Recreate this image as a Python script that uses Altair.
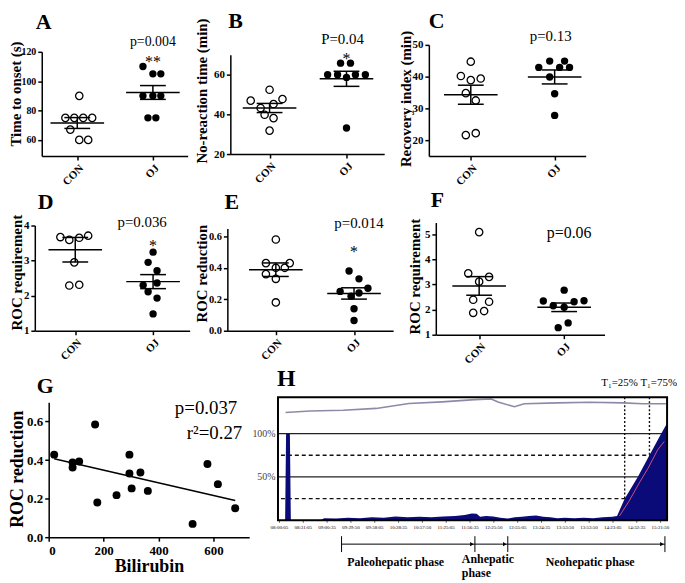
import altair as alt
import pandas as pd

FONT = "Liberation Serif"

# ---------------- data ----------------
# jitter values are horizontal spreads of the dot plot, in pixels
a_con = [90, 75, 75, 75, 75, 67, 60, 60]
a_con_jit = [2, -12, -3, 6, 15, -7, 2, 11]
a_oj = [110, 105, 105, 90, 90, 90, 75, 75]
a_oj_jit = [-10, 0, 8, -10, 0, 8, -5, 3]
a_mean = [71.5, 92.3]
a_sem = [3.7, 4.7]

b_con = [52.4, 46.9, 47.7, 43.2, 45.2, 39.8, 38.1, 31.8]
b_con_jit = [0, -19, 13, -9, 4, -5, 4, 0]
b_oj = [65.8, 65.8, 60, 60, 60, 60, 58.6, 33.1]
b_oj_jit = [-6, 4, -19, -9, 9, 19, 0, 0]
b_mean = [43.2, 57.9]
b_sem = [2.3, 3.8]

c_con = [44.7, 40.2, 38.9, 39.4, 34.8, 32.5, 21.6, 22.2]
c_con_jit = [0, -10, 0, 10, -5, 5, -5, 5]
c_oj = [44.9, 44.9, 42.9, 42.9, 42.9, 39.9, 34.6, 27.8]
c_oj_jit = [-5, 10, -16, 5, 15, -5, 0, 0]
c_mean = [34.3, 39.9]
c_sem = [3.0, 2.2]

d_con = [3.67, 3.59, 3.65, 3.71, 2.95, 2.29, 2.31]
d_con_jit = [-15, -6, 4, 13, -1, -6, 4]
d_oj = [3.24, 2.95, 2.71, 2.30, 2.36, 2.11, 1.93, 1.48]
d_oj_jit = [0, -5, 4, -10, 4, -5, 4, 0]
d_mean = [3.31, 2.40]
d_sem = [0.35, 0.20]

e_con = [0.58, 0.43, 0.43, 0.40, 0.40, 0.36, 0.33, 0.18]
e_con_jit = [0, -10, 14, 0, 9, -10, 0, 0]
e_oj = [0.38, 0.33, 0.25, 0.22, 0.24, 0.27, 0.14, 0.065]
e_oj_jit = [-5, 5, -14, -3, 5, 14, 0, 0]
e_mean = [0.388, 0.237]
e_sem = [0.043, 0.036]

f_con = [5.08, 3.44, 3.30, 3.11, 2.39, 2.31, 1.87, 1.94]
f_con_jit = [0, -11, 10, 0, -6, 10, -6, 5]
f_oj = [2.77, 2.34, 2.15, 2.09, 2.31, 2.35, 1.47, 1.28]
f_oj_jit = [0, -21, -11, 0, 10, 20, 4, -6]
f_mean = [2.94, 2.09]
f_sem = [0.37, 0.17]

g_bilirubin = [20, 169, 87, 87, 111, 177, 247, 294, 294, 302, 334, 361, 524, 578, 616, 679]
g_roc = [0.428, 0.584, 0.387, 0.361, 0.392, 0.18, 0.218, 0.428, 0.33, 0.253,
         0.335, 0.24, 0.069, 0.38, 0.275, 0.15]

h_times = ["08:00:05", "08:31:05", "09:00:35", "09:29:50", "09:58:05", "10:28:35",
           "10:57:50", "11:25:05", "11:56:35", "12:25:50", "12:55:05", "13:24:35",
           "13:53:50", "13:53:50", "14:23:05", "14:52:35", "15:21:50"]
# positions in units of time-label index
h_area_t = [0.26, 0.30, 0.46, 0.50, 1.75, 1.9, 2.4, 2.9, 3.4, 3.9, 4.4, 4.9, 5.4, 5.9,
            6.4, 6.9, 7.4, 7.8, 8.1, 8.3, 8.45, 8.7, 9.0, 9.3, 9.6, 9.9, 10.2, 10.5,
            10.8, 11.1, 11.4, 11.7, 12.0, 12.4, 12.8, 13.2, 13.6, 14.0, 14.2, 14.52,
            15.07, 15.56, 16.05, 16.3]
h_area_pct = [0, 100, 100, 0, 0, 2.5, 2, 3, 2.5, 3.5, 3, 4.5, 3.5, 4, 3.5, 4.5, 5, 6,
              8, 7.5, 4, 5, 4.5, 3, 2, 3.5, 4, 5, 5.5, 4, 3.5, 2.5, 3, 2.5, 3, 2.5, 3.5,
              4, 5, 25, 50, 75, 100, 112]
h_pink_t = [14.3, 14.7, 15.15, 15.5, 15.9, 16.18]
h_pink_pct = [5, 22, 44, 60, 81, 91]
h_gray_t = [0.28, 1.31, 2.70, 4.08, 5.46, 6.85, 8.23, 8.92, 9.20, 9.89, 10.3, 11.69,
            13.07, 14.45, 15.28, 16.25]
h_gray_pct = [124.3, 126.2, 126.9, 129.1, 134.7, 136.6, 139.2, 140, 136.6, 131, 134.4,
              135.5, 136.3, 135.5, 134.4, 134.4]
h_t1_marks = [14.52, 15.56]
h_solid_levels = [50, 100]
h_dashed_levels = [25, 75]
h_phase_bounds = [2.63, 8.23, 9.61, 16.21]
h_phase_names = ["Paleohepatic phase", "Anhepatic", "phase", "Neohepatic phase"]
h_phase_name_t = [4.9, 7.68, 7.68, 13.07]


def spacer(w, h):
    return alt.Chart(pd.DataFrame({"z": [0]})).mark_point(opacity=0, size=0).encode(
        x=alt.value(0), y=alt.value(0)).properties(width=w, height=h)


def cell(panel, w, s):
    return alt.vconcat(spacer(w, s), panel, spacing=0)


def letter_layer(letter, lx, ly, fs):
    one = pd.DataFrame({"k": [0]})
    return alt.Chart(one).mark_text(text=letter, font=FONT, fontSize=fs, fontWeight="bold",
                                    align="left", baseline="alphabetic", color="black").encode(
        x=alt.value(lx), y=alt.value(ly))


def dot_panel(letter, con, con_j, oj, oj_j, means, sems, xdom, w, h, ydom, yticks,
              ytitle, tx, ty, yfmt, ptext, pdx, pbase, stars, sy, lx, ly,
              pfs=15, ylab=11):
    ppu = w / (xdom[1] - xdom[0])
    pts = pd.DataFrame({"g": [0] * len(con) + [1] * len(oj),
                        "v": con + oj, "j": con_j + oj_j})
    xs = alt.Scale(domain=xdom, nice=False, zero=False)
    ys = alt.Scale(domain=ydom, nice=False, zero=False)
    xax = alt.Axis(values=[0, 1], labelExpr="datum.value < 0.5 ? 'CON' : 'OJ'",
                   labelAngle=-45, title=None, labelFontSize=11)
    yax = alt.Axis(values=yticks, format=yfmt, title=ytitle, titleX=tx, titleY=ty,
                   titleAngle=270, titleAlign="center", titleBaseline="middle",
                   labelFontSize=ylab)

    def X(f):
        return alt.X(f, type="quantitative", scale=xs, axis=xax)

    def Y(f):
        return alt.Y(f, type="quantitative", scale=ys, axis=yax)

    base = alt.Chart(pts).transform_calculate(xp=f"datum.g + datum.j / {ppu:.4f}")
    con_l = base.transform_filter("datum.g == 0").mark_point(
        shape="circle", color="black", strokeWidth=1.3, size=55, opacity=1
    ).encode(x=X("xp"), y=Y("v"))
    oj_l = base.transform_filter("datum.g == 1").mark_circle(
        color="black", size=55, opacity=1
    ).encode(x=X("xp"), y=Y("v"))

    st = pd.DataFrame({"g": [0, 1], "m": means, "s": sems})
    mh = 27 / ppu
    ch = 13 / ppu
    sb = alt.Chart(st).transform_calculate(
        lo="datum.m - datum.s", hi="datum.m + datum.s",
        a0=f"datum.g - {mh:.4f}", a1=f"datum.g + {mh:.4f}",
        c0=f"datum.g - {ch:.4f}", c1=f"datum.g + {ch:.4f}")
    rs = dict(color="black", strokeWidth=1.5)
    vert = sb.mark_rule(**rs).encode(x=X("g"), y=Y("lo"), y2="hi")
    meanl = sb.mark_rule(**rs).encode(x=X("a0"), x2="a1", y=Y("m"))
    caph = sb.mark_rule(**rs).encode(x=X("c0"), x2="c1", y=Y("hi"))
    capl = sb.mark_rule(**rs).encode(x=X("c0"), x2="c1", y=Y("lo"))

    one = pd.DataFrame({"g": [1]})
    pt = alt.Chart(one).mark_text(text=ptext, font=FONT, fontSize=pfs, align="center",
                                  baseline="alphabetic", dx=pdx, color="black").encode(
        x=X("g"), y=alt.value(pbase))
    layers = [vert, meanl, caph, capl, con_l, oj_l, pt, letter_layer(letter, lx, ly, 22)]
    if stars:
        layers.append(alt.Chart(one).mark_text(text=stars, font=FONT, fontSize=16,
                                               align="center", baseline="middle",
                                               color="black").encode(
            x=X("g"), y=alt.value(sy)))
    return alt.layer(*layers).properties(width=w, height=h)


A = dot_panel("A", a_con, a_con_jit, a_oj, a_oj_jit, a_mean, a_sem, [-0.47, 1.46], 147, 105,
              [49, 120], [60, 80, 100, 120], "Time to onset (s)", -26, 42, "d",
              "p=0.004", 0, -6, "**", 10, -6, -23, pfs=14, ylab=10)
B = dot_panel("B", b_con, b_con_jit, b_oj, b_oj_jit, b_mean, b_sem, [-0.51, 1.49], 155, 100,
              [20, 70], [20, 40, 60], "No-reaction time (min)", -29.5, 36, "d",
              "P=0.04", -4, -11, "*", 4, -2, -27)
C = dot_panel("C", c_con, c_con_jit, c_oj, c_oj_jit, c_mean, c_sem, [-0.5, 1.37], 158, 112,
              [15, 50], [20, 30, 40, 50], "Recovery index (min)", -23, 54, "d",
              "p=0.13", -4, -4, "", 0, 0, -17)
D = dot_panel("D", d_con, d_con_jit, d_oj, d_oj_jit, d_mean, d_sem, [-0.52, 1.47], 156, 106,
              [1, 4], [1, 2, 3, 4], "ROC requirement", -18, 47, "d",
              "p=0.036", -11, 1, "*", 21, 3, -17)
E = dot_panel("E", e_con, e_con_jit, e_oj, e_oj_jit, e_mean, e_sem, [-0.62, 1.5], 167, 103,
              [0, 0.65], [0, 0.2, 0.4, 0.6], "ROC reduction", -26, 45, ".1f",
              "p=0.014", 5, 0, "*", 24, -3, -20, ylab=10.5)
F = dot_panel("F", f_con, f_con_jit, f_oj, f_oj_jit, f_mean, f_sem, [-0.51, 1.475], 170, 113,
              [1, 5.46], [1, 2, 3, 4, 5], "ROC requirement", -21, 54, "d",
              "p=0.06", 5, 16, "", 0, -5, -16, pfs=16)

# ---------------- panel G ----------------
g_df = pd.DataFrame({"bil": g_bilirubin, "roc": g_roc})
gxs = alt.Scale(domain=[0, 730], nice=False, zero=False)
gys = alt.Scale(domain=[0, 0.7], nice=False, zero=False)
gxa = alt.Axis(values=[0, 200, 400, 600], title="Bilirubin", labelFontSize=13,
               titleFontSize=18, labelPadding=3, titlePadding=1)
gya = alt.Axis(values=[0, 0.2, 0.4, 0.6], format=".1f", title="ROC reduction",
               labelFontSize=13, titleFontSize=18, titleX=-31, titleY=67, titleAngle=270,
               titleAlign="center", titleBaseline="middle")
GX = alt.X("bil:Q", scale=gxs, axis=gxa)
GY = alt.Y("roc:Q", scale=gys, axis=gya)
g_pts = alt.Chart(g_df).mark_circle(color="black", size=64, opacity=1).encode(x=GX, y=GY)
g_fit = alt.Chart(g_df).transform_regression("bil", "roc").mark_line(
    color="black", strokeWidth=1.5).encode(x=GX, y=GY)
one = pd.DataFrame({"k": [0]})
g_txt1 = alt.Chart(one).mark_text(text="p=0.037", font=FONT, fontSize=19, align="right",
                                  baseline="alphabetic", color="black").encode(
    x=alt.value(190), y=alt.value(12))
g_txt2 = alt.Chart(one).mark_text(text="r²=0.27", font=FONT, fontSize=19, align="right",
                                  baseline="alphabetic", color="black").encode(
    x=alt.value(195), y=alt.value(37))
G = alt.layer(g_fit, g_pts, g_txt1, g_txt2,
              letter_layer("G", -12, -9, 22)).properties(width=202, height=136)

# ---------------- panel H ----------------
HW, HH = 392, 124
hxs = alt.Scale(domain=[-0.04, 16.3], nice=False, zero=False)
hys = alt.Scale(domain=[0, 142], nice=False, zero=False)
time_arr = "[" + ",".join(f"'{t}'" for t in h_times) + "]"
hxa = alt.Axis(values=list(range(len(h_times))), labelExpr=f"{time_arr}[datum.value]",
               labelFontSize=5, labelFontWeight="normal", labelAngle=0, labelOverlap=False,
               labelBound=False, labelFlush=False, domain=False, tickSize=2, tickWidth=0.6,
               labelPadding=2, title=None)
hya = alt.Axis(values=[50, 100], labelExpr="datum.value + '%'", labelFontSize=10,
               labelFontWeight="normal", labelColor="#444", ticks=False, domain=False,
               labelPadding=3, title=None)


def HX(f):
    return alt.X(f, type="quantitative", scale=hxs, axis=hxa)


def HY(f):
    return alt.Y(f, type="quantitative", scale=hys, axis=hya)


solid = alt.Chart(pd.DataFrame({"lv": h_solid_levels})).mark_rule(
    color="#222", strokeWidth=1.3).encode(y=HY("lv"))
dashed = alt.Chart(pd.DataFrame({"lv": h_dashed_levels})).mark_rule(
    color="#111", strokeWidth=1.4, strokeDash=[4, 3]).encode(y=HY("lv"))
tmarks = alt.Chart(pd.DataFrame({"t": h_t1_marks})).mark_rule(
    color="#111", strokeWidth=1.4, strokeDash=[2, 2]).encode(x=HX("t"))
area = alt.Chart(pd.DataFrame({"t": h_area_t, "p": h_area_pct})).mark_area(
    color="#0a0a78", interpolate="linear", opacity=1).encode(x=HX("t"), y=HY("p"))
pink = alt.Chart(pd.DataFrame({"t": h_pink_t, "p": h_pink_pct})).mark_line(
    color="#d0507a", strokeWidth=1).encode(x=HX("t"), y=HY("p"))
gray = alt.Chart(pd.DataFrame({"t": h_gray_t, "p": h_gray_pct})).mark_line(
    color="#8d8aa8", strokeWidth=1.6).encode(x=HX("t"), y=HY("p"))
frame = alt.Chart(one).mark_rect(filled=False, stroke="black", strokeWidth=2).encode(
    x=alt.value(0), x2=alt.value(HW), y=alt.value(0), y2=alt.value(HH))

seg = pd.DataFrame({"s": h_phase_bounds[:-1], "e": h_phase_bounds[1:]})
ph_line = alt.Chart(seg).mark_rule(color="black", strokeWidth=1).encode(
    x=HX("s"), x2="e", y=alt.value(HH + 24))
ph_ticks = alt.Chart(pd.DataFrame({"b": h_phase_bounds})).mark_rule(
    color="black", strokeWidth=1).encode(x=HX("b"), y=alt.value(HH + 16), y2=alt.value(HH + 32))
ph_arrows = alt.Chart(seg).mark_point(shape="triangle-right", filled=True, color="black",
                                      size=18, opacity=1, xOffset=-3).encode(
    x=HX("e"), y=alt.value(HH + 24))
ph_txt = pd.DataFrame({"t": h_phase_name_t, "name": h_phase_names,
                       "k": ["c", "l", "l", "c"], "row": [0, 0, 1, 0]})
ph_c = alt.Chart(ph_txt).transform_filter("datum.k == 'c'").mark_text(
    font=FONT, fontSize=12, fontWeight="bold", align="center", baseline="middle",
    color="black").encode(x=HX("t"), y=alt.value(HH + 42), text="name:N")
ph_l0 = alt.Chart(ph_txt).transform_filter("datum.k == 'l' && datum.row == 0").mark_text(
    font=FONT, fontSize=12, fontWeight="bold", align="left", baseline="middle",
    color="black").encode(x=HX("t"), y=alt.value(HH + 39), text="name:N")
ph_l1 = alt.Chart(ph_txt).transform_filter("datum.k == 'l' && datum.row == 1").mark_text(
    font=FONT, fontSize=12, fontWeight="bold", align="left", baseline="middle",
    color="black").encode(x=HX("t"), y=alt.value(HH + 53), text="name:N")
t_txt = alt.Chart(one).mark_text(text="T\u2081=25% T\u2081=75%", font=FONT, fontSize=11,
                                 align="right", baseline="alphabetic", color="black").encode(
    x=alt.value(HW + 10), y=alt.value(-11))
Hc = alt.layer(solid, dashed, tmarks, area, pink, gray, frame, ph_line, ph_ticks, ph_arrows,
               ph_c, ph_l0, ph_l1, t_txt,
               letter_layer("H", -1, -11, 24)).properties(width=HW, height=HH)

# ---------------- layout ----------------
row1 = alt.hconcat(spacer(1, 1), cell(A, 147, 5), spacer(6, 1), cell(B, 155, 4),
                   spacer(14, 1), cell(C, 158, 4), spacing=0)
row2 = alt.hconcat(spacer(2, 1), cell(D, 156, 3), spacer(4, 1), cell(E, 167, 3),
                   spacer(14, 1), cell(F, 170, 1), spacing=0)
row3 = alt.hconcat(spacer(1, 1), cell(G, 202, 9), spacer(2, 1), cell(Hc, HW, 1), spacing=0)

chart = alt.vconcat(row1, row2, row3, spacing=0,
                    padding={"left": -1, "top": -4, "right": 0, "bottom": 0}).configure_view(
    stroke=None
).configure_axis(
    domainColor="black", domainWidth=1.5, tickColor="black", tickWidth=1.5, tickSize=4,
    labelFont=FONT, labelFontWeight="bold", labelFontSize=10, labelColor="black",
    titleFont=FONT, titleFontWeight="bold", titleFontSize=15, titleColor="black",
    grid=False, labelPadding=2, titlePadding=3
)

chart.save("out.html", embed_options={"renderer": "svg", "actions": False})
